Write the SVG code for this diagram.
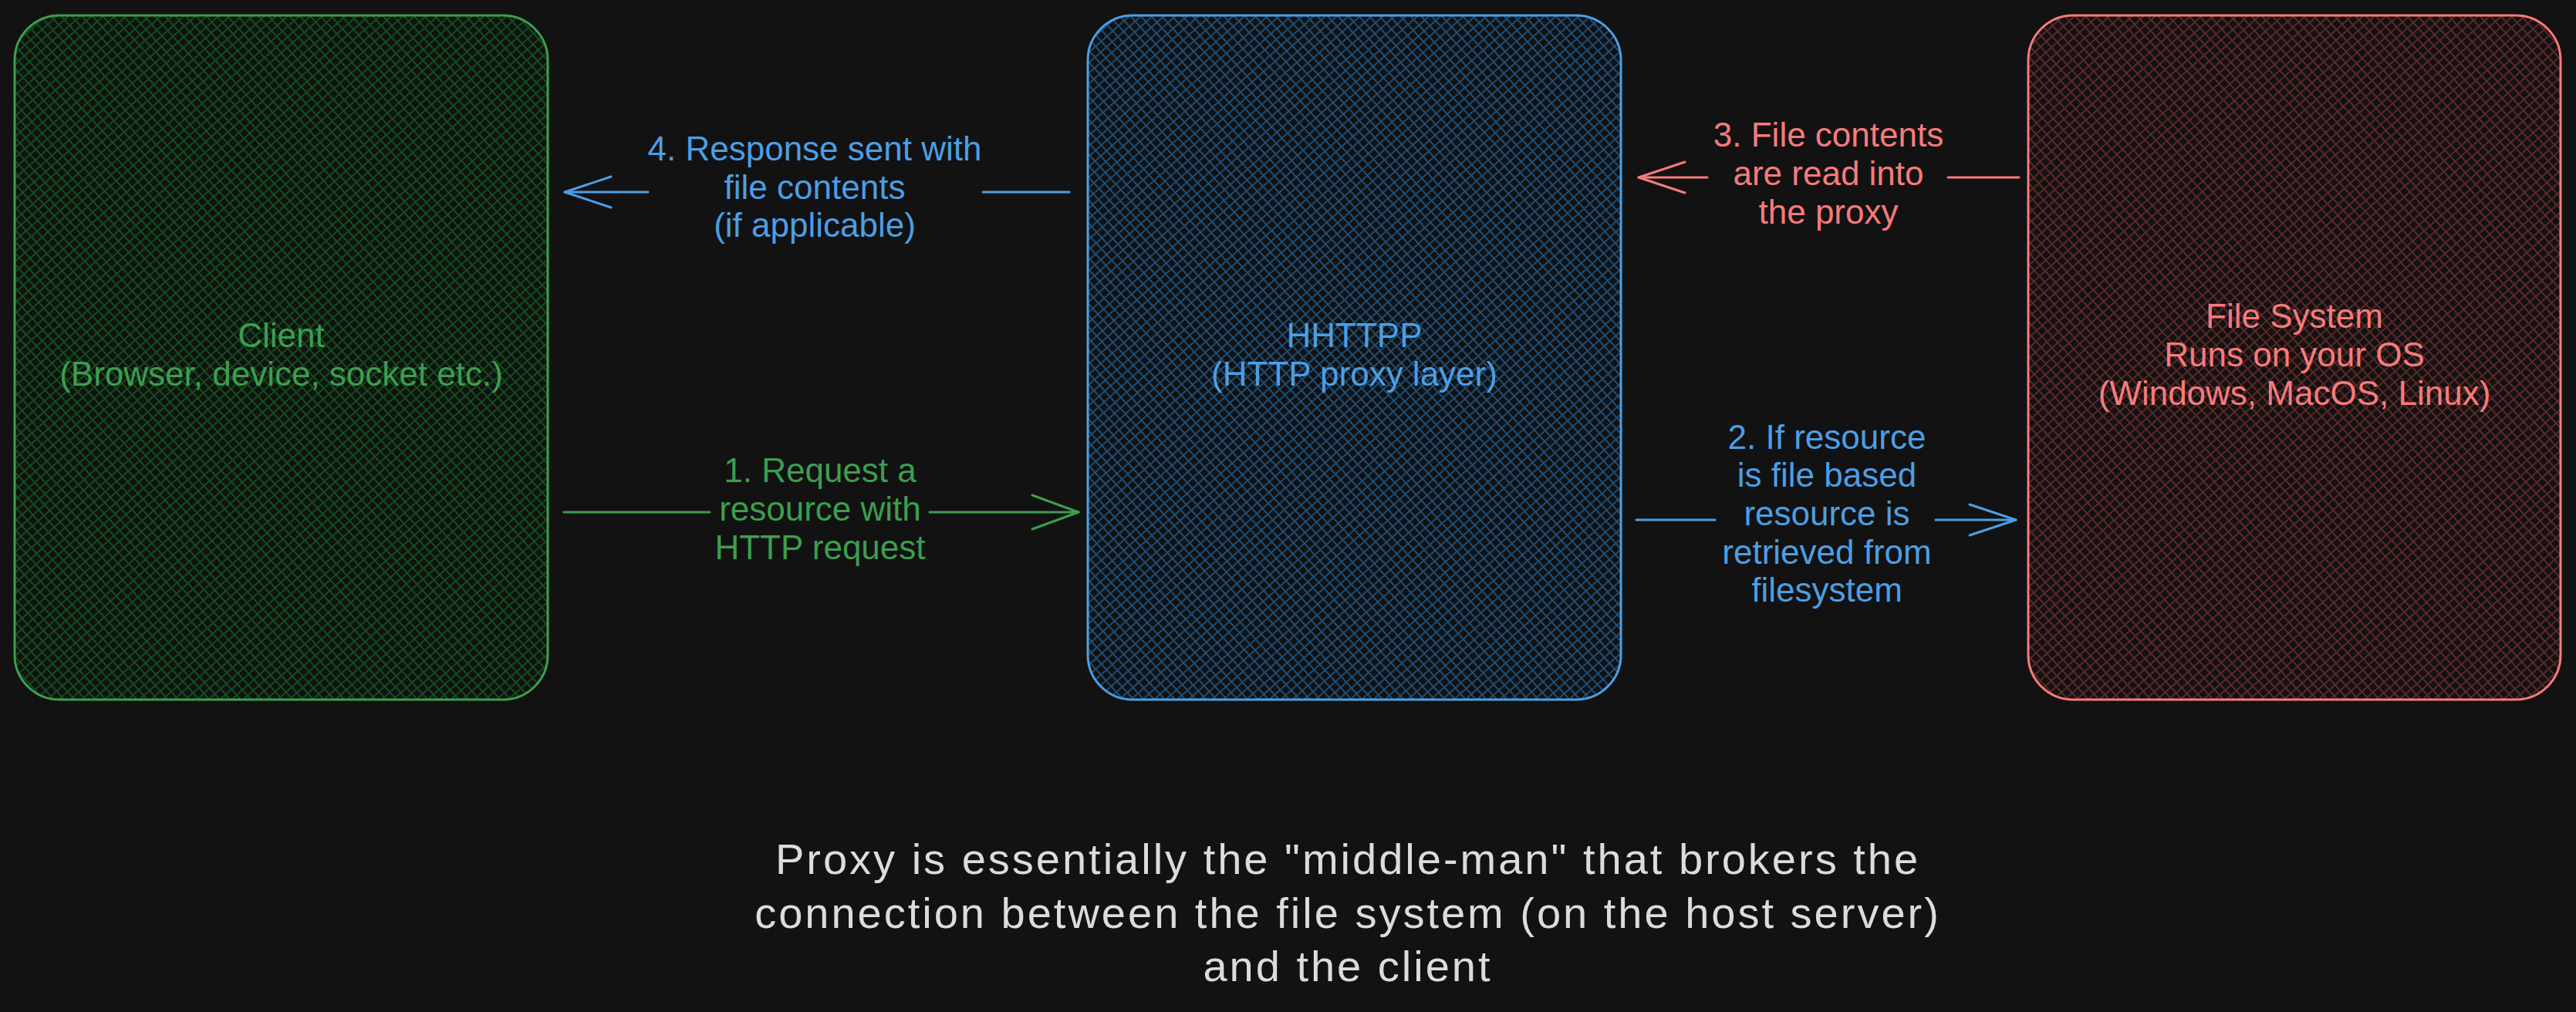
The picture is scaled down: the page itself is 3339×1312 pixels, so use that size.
<svg xmlns="http://www.w3.org/2000/svg" width="3339" height="1312" viewBox="0 0 3339 1312">
  <defs>
    <pattern id="hatchG" width="10" height="10" patternUnits="userSpaceOnUse" patternTransform="rotate(48)">
      <path d="M0 5 H10 M5 0 V10" stroke="#10501b" stroke-width="1.9" fill="none"/>
    </pattern>
    <pattern id="hatchB" width="10" height="10" patternUnits="userSpaceOnUse" patternTransform="rotate(48)">
      <path d="M0 5 H10 M5 0 V10" stroke="#1c4f79" stroke-width="1.9" fill="none"/>
    </pattern>
    <pattern id="hatchR" width="10" height="10" patternUnits="userSpaceOnUse" patternTransform="rotate(48)">
      <path d="M0 5 H10 M5 0 V10" stroke="#5e2828" stroke-width="1.9" fill="none"/>
    </pattern>
    <marker id="arrG" viewBox="0 0 64 48" refX="62" refY="24" markerWidth="64" markerHeight="48" markerUnits="userSpaceOnUse" orient="auto">
      <path d="M2 2 L62 24 L2 46" fill="none" stroke="#3d9e4f" stroke-width="3" stroke-linecap="round" stroke-linejoin="round"/>
    </marker>
    <marker id="arrB" viewBox="0 0 64 48" refX="62" refY="24" markerWidth="64" markerHeight="48" markerUnits="userSpaceOnUse" orient="auto">
      <path d="M2 4 L62 24 L2 44" fill="none" stroke="#4c9fe5" stroke-width="3" stroke-linecap="round" stroke-linejoin="round"/>
    </marker>
    <marker id="arrR" viewBox="0 0 64 48" refX="62" refY="24" markerWidth="64" markerHeight="48" markerUnits="userSpaceOnUse" orient="auto">
      <path d="M2 4 L62 24 L2 44" fill="none" stroke="#f77b7b" stroke-width="3" stroke-linecap="round" stroke-linejoin="round"/>
    </marker>
  </defs>
  <style>
    text { font-family: "Liberation Sans", Arial, sans-serif; text-anchor: middle; }
    .lbl { font-size: 44px; }
    .g { fill: #3d9e4f; }
    .b { fill: #4c9fe5; }
    .r { fill: #f77b7b; }
    .note { font-size: 56px; fill: #dcdcdc; letter-spacing: 3px; }
    .box { stroke-width: 3; }
    .conn { fill: none; stroke-width: 3; stroke-linecap: round; }
  </style>
  <rect width="3339" height="1312" fill="#121212"/>

  <g id="client">
    <rect class="box" x="19" y="20" width="691" height="887" rx="58" fill="url(#hatchG)" stroke="#3d9e4f"/>
    <text class="lbl g" x="364.5" y="450">Client</text>
    <text class="lbl g" x="364.5" y="500">(Browser, device, socket etc.)</text>
  </g>

  <g id="hhttpp">
    <rect class="box" x="1410" y="20" width="691" height="887" rx="58" fill="url(#hatchB)" stroke="#4c9fe5"/>
    <text class="lbl b" x="1755.5" y="450">HHTTPP</text>
    <text class="lbl b" x="1755.5" y="500">(HTTP proxy layer)</text>
  </g>

  <g id="filesystem">
    <rect class="box" x="2629" y="20" width="690" height="887" rx="58" fill="url(#hatchR)" stroke="#f77b7b"/>
    <text class="lbl r" x="2974" y="425">File System</text>
    <text class="lbl r" x="2974" y="475">Runs on your OS</text>
    <text class="lbl r" x="2974" y="525">(Windows, MacOS, Linux)</text>
  </g>

  <g id="connectors">
    <path class="conn" stroke="#3d9e4f" d="M731 664 H920 M1205 664 H1398" marker-end="url(#arrG)"/>
    <path class="conn" stroke="#4c9fe5" d="M2121 674 H2223 M2509 674 H2613" marker-end="url(#arrB)"/>
    <path class="conn" stroke="#f77b7b" d="M2617 230 H2525 M2213 230 H2124" marker-end="url(#arrR)"/>
    <path class="conn" stroke="#4c9fe5" d="M1386 249 H1274 M840 249 H732" marker-end="url(#arrB)"/>
  </g>

  <g id="label-1">
    <text class="lbl g" x="1063" y="625">1. Request a</text>
    <text class="lbl g" x="1063" y="675">resource with</text>
    <text class="lbl g" x="1063" y="725">HTTP request</text>
  </g>
  <g id="label-2">
    <text class="lbl b" x="2368" y="582">2. If resource</text>
    <text class="lbl b" x="2368" y="631">is file based</text>
    <text class="lbl b" x="2368" y="681">resource is</text>
    <text class="lbl b" x="2368" y="731">retrieved from</text>
    <text class="lbl b" x="2368" y="780">filesystem</text>
  </g>
  <g id="label-3">
    <text class="lbl r" x="2370" y="190">3. File contents</text>
    <text class="lbl r" x="2370" y="240">are read into</text>
    <text class="lbl r" x="2370" y="290">the proxy</text>
  </g>
  <g id="label-4">
    <text class="lbl b" x="1056" y="208">4. Response sent with</text>
    <text class="lbl b" x="1056" y="258">file contents</text>
    <text class="lbl b" x="1056" y="307">(if applicable)</text>
  </g>

  <g id="note">
    <text class="note" x="1747" y="1133">Proxy is essentially the "middle-man" that brokers the</text>
    <text class="note" x="1747" y="1203">connection between the file system (on the host server)</text>
    <text class="note" x="1747" y="1272">and the client</text>
  </g>
</svg>
